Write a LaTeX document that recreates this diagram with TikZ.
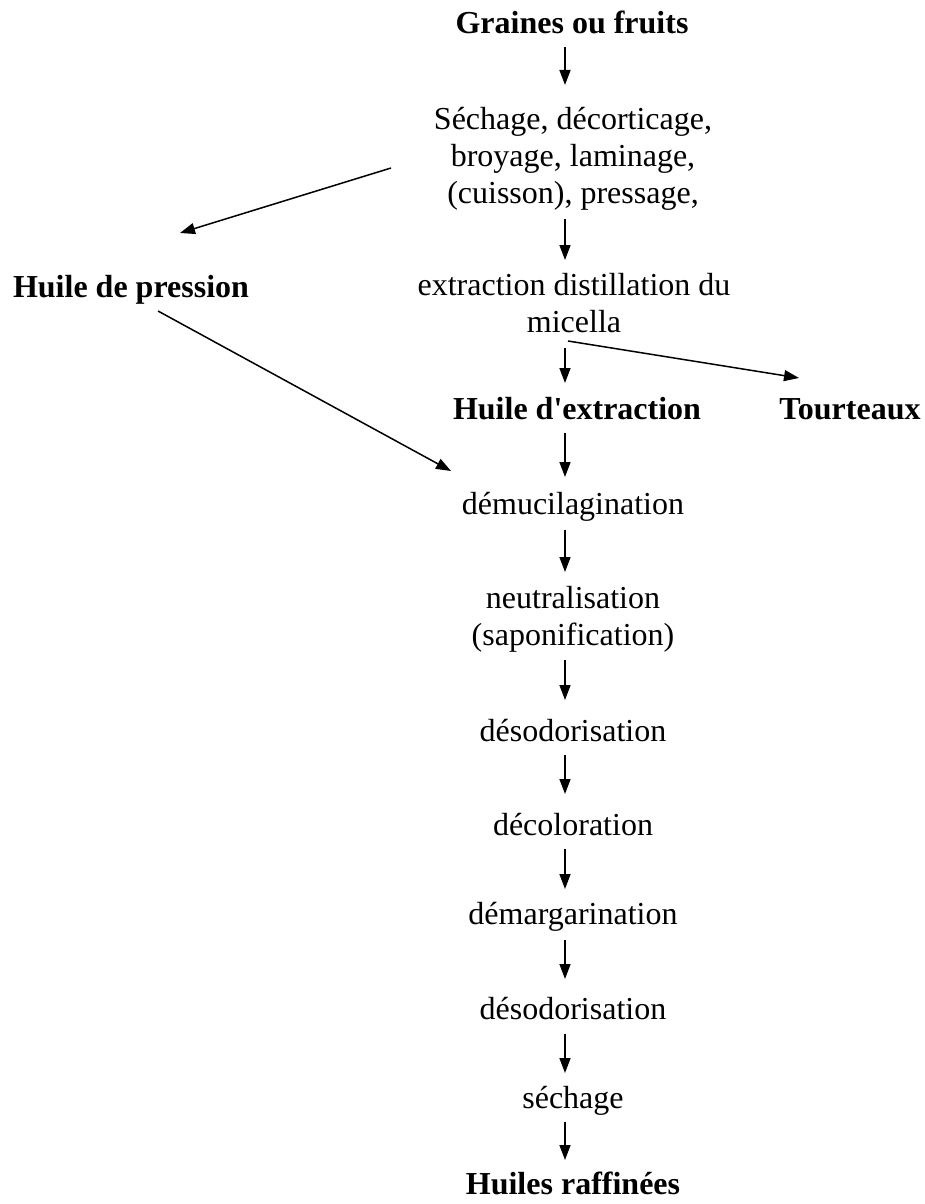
\documentclass[tikz,border=0pt]{standalone}
\usepackage{fontspec}
\setmainfont{Liberation Serif}
\usetikzlibrary{arrows.meta}
\begin{document}
\begin{tikzpicture}[x=1pt,y=-1pt,
  txt/.style={inner sep=0pt, align=center, font=\fontsize{32}{37}\selectfont},
  btxt/.style={txt, font=\fontsize{32}{37}\selectfont\bfseries},
  arr/.style={line width=1.5pt, -{Triangle[length=15pt,width=11pt]}}]
\useasboundingbox (0,0) rectangle (925,1204);
\node[btxt] (graines) at (572,22) {Graines ou fruits};
\node[txt] (prep) at (573,159) {Séchage, décorticage,\\broyage, laminage,\\(cuisson), pressage,};
\node[txt] (extr) at (574,303) {extraction distillation du\\micella};
\node[btxt] (pression) at (131,290) {Huile de pression};
\node[btxt] (hext) at (577,409) {Huile d\textquotesingle extraction};
\node[btxt] (tourt) at (850,409) {Tourteaux};
\node[txt] (demuc) at (573,507) {démucilagination};
\node[txt] (neutr) at (573,619) {neutralisation\\(saponification)};
\node[txt] (desod1) at (573,731) {désodorisation};
\node[txt] (decol) at (573,825) {décoloration};
\node[txt] (demarg) at (573,917) {démargarination};
\node[txt] (desod2) at (573,1009) {désodorisation};
\node[txt] (sech) at (573,1101) {séchage};
\node[btxt] (raff) at (573,1183) {Huiles raffinées};
% free ends
\coordinate (ls) at (391,168);
\coordinate (le) at (180,233);
\coordinate (ps) at (158,311);
\coordinate (pe) at (451,471);
\coordinate (ts) at (568,341);
\coordinate (te) at (799,378);
\draw[arr] (ls) -- (le);
\draw[arr] (ps) -- (pe);
\draw[arr] (ts) -- (te);
% vertical arrows
\draw[arr] (565,47) -- (565,85);
\draw[arr] (565,219) -- (565,260);
\draw[arr] (565,348) -- (565,383);
\draw[arr] (565,433) -- (565,477);
\draw[arr] (565,530) -- (565,572);
\draw[arr] (565,660) -- (565,700);
\draw[arr] (565,755) -- (565,794);
\draw[arr] (565,849) -- (565,889);
\draw[arr] (565,940) -- (565,979);
\draw[arr] (565,1034) -- (565,1073);
\draw[arr] (565,1122) -- (565,1160);
\end{tikzpicture}
\end{document}
